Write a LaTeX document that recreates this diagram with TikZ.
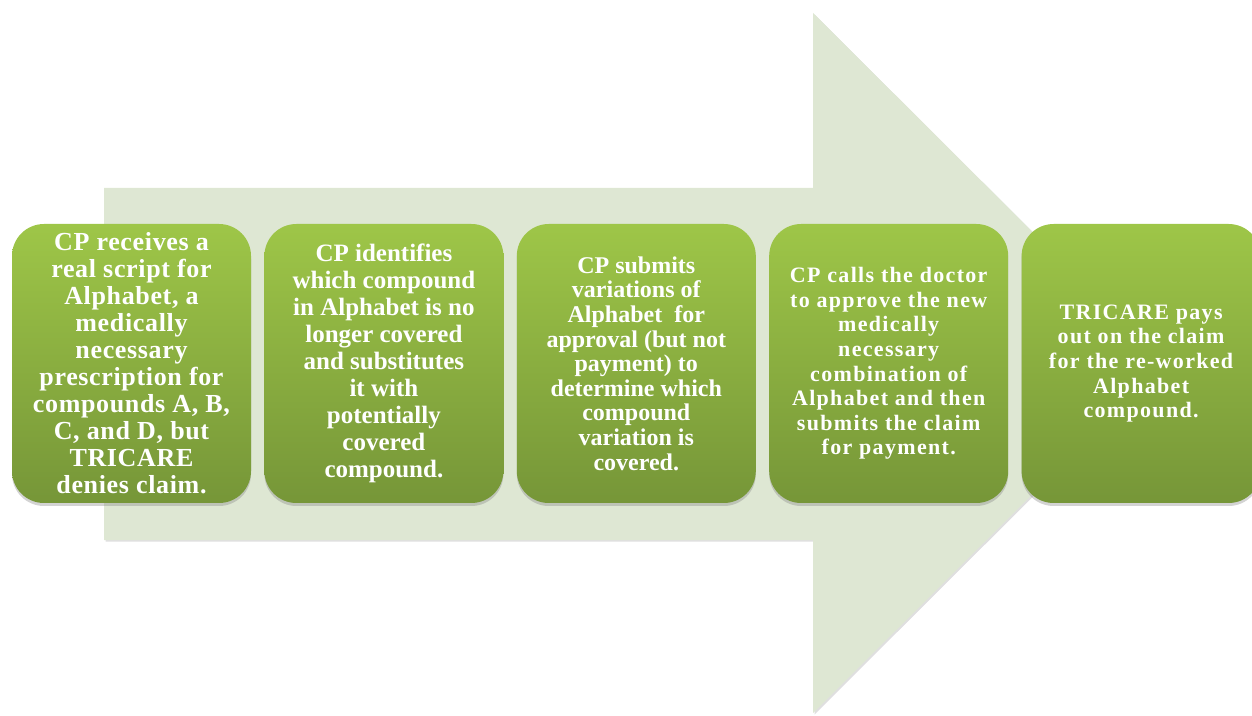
\documentclass[tikz,border=0pt]{standalone}
\usepackage{fontspec}
\setmainfont{Liberation Serif}
\usetikzlibrary{positioning,shadows}
\definecolor{arrowgreen}{RGB}{222,231,211}
\definecolor{boxtop}{RGB}{158,198,72}
\definecolor{boxbottom}{RGB}{118,150,56}
\begin{document}
\begin{tikzpicture}[x=1pt,y=1pt,
		stepbox/.style={rounded corners=32pt,minimum width=239pt,minimum height=279pt,inner sep=0pt,align=center,text=white,top color=boxtop,bottom color=boxbottom,drop shadow={opacity=0.35,shadow xshift=0pt,shadow yshift=-3pt}},
		firsttext/.style={font=\fontsize{26}{27}\selectfont\bfseries\addfontfeatures{LetterSpace=2.5}},
		bigtext/.style={font=\fontsize{25}{27}\selectfont\bfseries},
		smalltext/.style={font=\fontsize{24}{24.6}\selectfont\bfseries},
		widetext/.style={font=\fontsize{22}{24.6}\selectfont\bfseries\addfontfeatures{LetterSpace=6}}]
			\useasboundingbox (0,0) rectangle (1252,715);
			\clip (0,0) rectangle (1252,715);
			\fill[arrowgreen,drop shadow={opacity=0.25,shadow xshift=1.5pt,shadow yshift=-1.5pt}] (104,175) -- (104,527) -- (813,527) -- (813,702) -- (1164,352) -- (813,2) -- (813,175) -- cycle;

			\node[stepbox,firsttext] (receive) at (131.5,351.5) {CP receives a\\real script for\\Alphabet, a\\medically\\necessary\\prescription for\\compounds A, B,\\C, and D, but\\TRICARE\\denies claim.};
			\node[stepbox,bigtext,right=13pt of receive] (identify) {CP identifies\\which compound\\in Alphabet is no\\longer covered\\and substitutes\\it with\\potentially\\covered\\compound.};
			\node[stepbox,smalltext,right=13pt of identify] (submit) {CP submits\\variations of\\Alphabet~ for\\approval (but not\\payment) to\\determine which\\compound\\variation is\\covered.};
			\node[stepbox,widetext,right=13pt of submit] (doctor) {CP calls the doctor\\to approve the new\\medically\\necessary\\combination of\\Alphabet and then\\submits the claim\\for payment.};
			\node[stepbox,widetext,right=13pt of doctor] (pays) {TRICARE pays\\out on the claim\\for the re-worked\\Alphabet\\compound.};
		\end{tikzpicture}
\end{document}
